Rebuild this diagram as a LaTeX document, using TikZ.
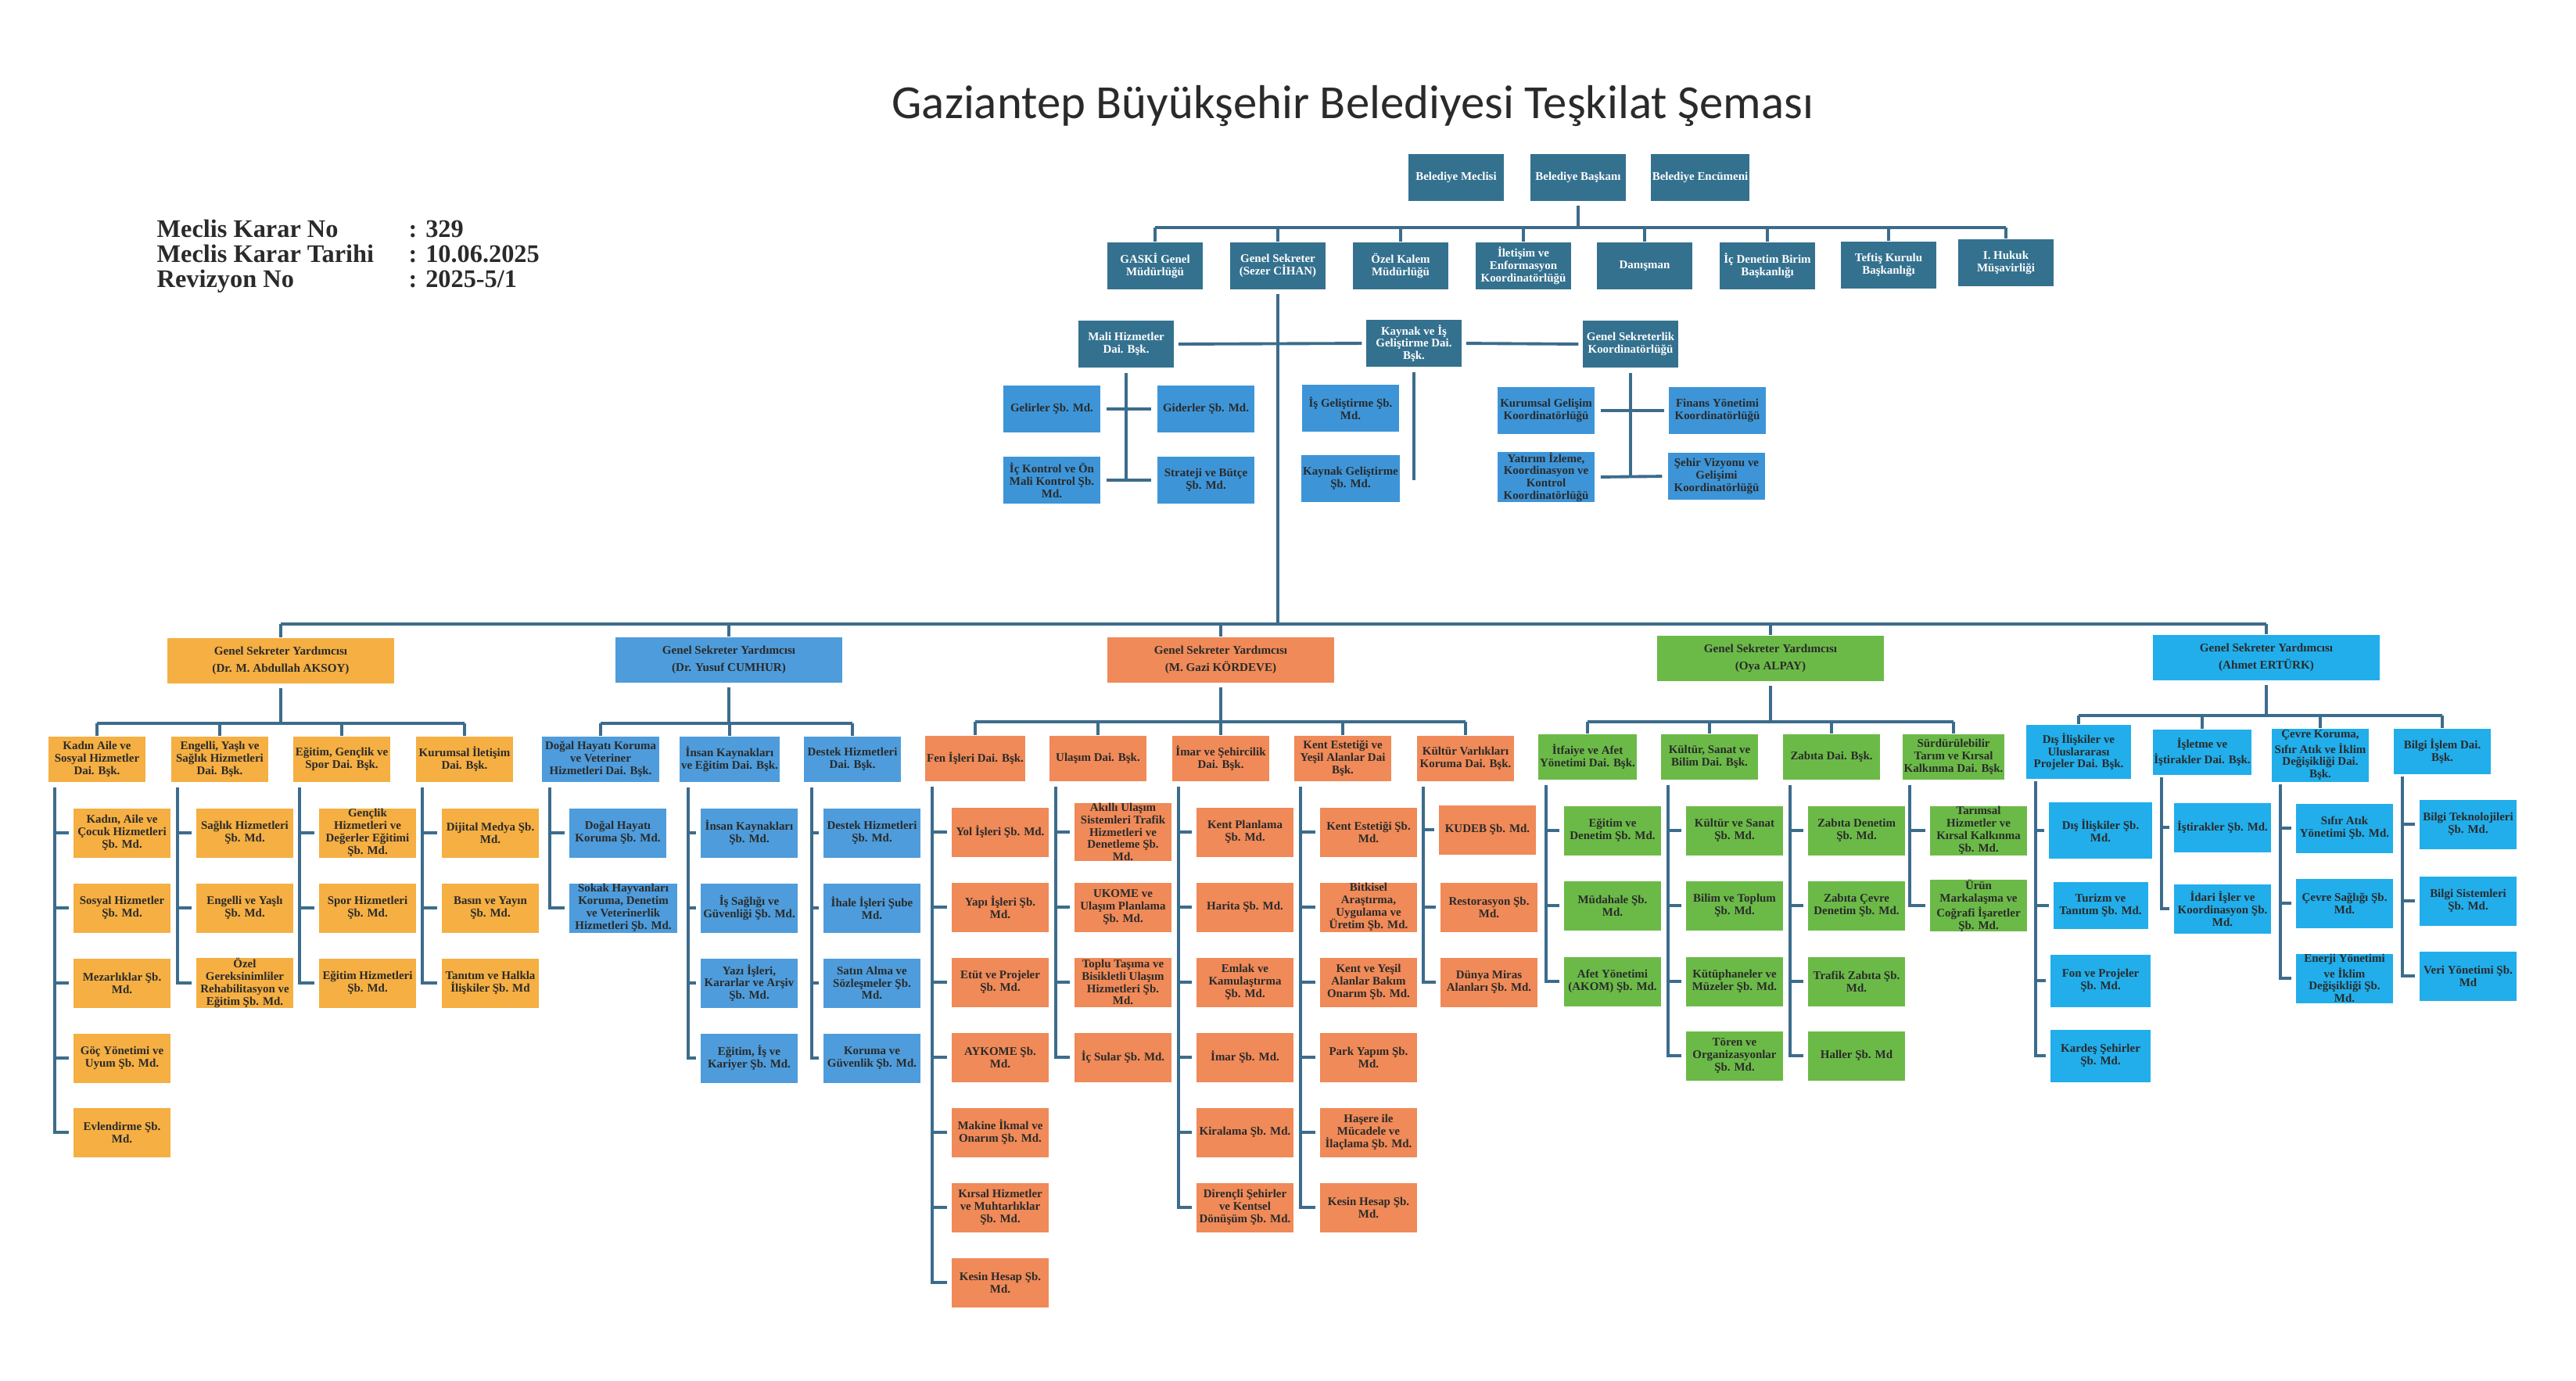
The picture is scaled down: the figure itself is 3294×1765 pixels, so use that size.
\documentclass[tikz,border=0pt]{standalone}
\usepackage{fontspec}
\setmainfont{Liberation Serif}
\newfontfamily\titlefont{Carlito}
\usetikzlibrary{calc}
\definecolor{topblue}{HTML}{34718F}
\definecolor{lblue}{HTML}{3D95D8}
\definecolor{bblue}{HTML}{4E9CDB}
\definecolor{orgA}{HTML}{F5AF42}
\definecolor{orgC}{HTML}{F08A58}
\definecolor{grn}{HTML}{6BBA48}
\definecolor{cyn}{HTML}{21AEEB}
\definecolor{connc}{HTML}{3C6C8C}
\definecolor{txt}{HTML}{2A2A2A}
\newcommand\boxfont{\fontsize{4.25}{4.5}\selectfont\bfseries}
\newcommand\gsyfont{\fontsize{4.3}{6.2}\selectfont\bfseries}
\tikzset{
 box/.style={draw=none, align=center, inner xsep=0.5pt, inner ysep=0pt, font=\boxfont, text=txt},
 sbox/.style={box, minimum width=1.24cm, minimum height=0.63cm},
 dbox/.style={box, minimum width=1.24cm, minimum height=0.58cm},
 gbox/.style={box, minimum width=2.9cm, minimum height=0.58cm, font=\gsyfont},
 tbox/.style={box, fill=topblue, text=white, minimum width=1.22cm, minimum height=0.6cm},
 lbox/.style={box, fill=lblue, minimum width=1.24cm, minimum height=0.6cm},
 cA/.style={fill=orgA}, cB/.style={fill=bblue}, cC/.style={fill=orgC},
 cD/.style={fill=grn}, cE/.style={fill=cyn},
 conn/.style={draw=connc, line width=1.1pt},
 barc/.style={draw=connc, line width=1.3pt},
 info/.style={font=\fontsize{9.2}{11}\selectfont\bfseries, text=txt, inner sep=0pt, anchor=base west},
}
\begin{document}
\begin{tikzpicture}[x=0.01cm, y=-0.01cm]
\fill[white] (0,0) rectangle (3294,1765);
\useasboundingbox (0,0) rectangle (3294,1765);

% title and info
\node[inner sep=0pt, text=txt] (title) at (1730,135) {\resizebox{11.78cm}{!}{\titlefont Gaziantep Büyükşehir Belediyesi Teşkilat Şeması}};
\node[info] (l1) at (200,303) {Meclis Karar No};
\node[info] (l2) at (200,335) {Meclis Karar Tarihi};
\node[info] (l3) at (200,367) {Revizyon No};
\node[info] (v1) at (522,303) {: 329};
\node[info] (v2) at (522,335) {: 10.06.2025};
\node[info] (v3) at (522,367) {: 2025-5/1};

% top rows
\node[tbox] (meclis) at (1862,227) {Belediye Meclisi};
\node[tbox] (baskan) at (2018,227) {Belediye Başkanı};
\node[tbox] (encumen) at (2174,227) {Belediye Encümeni};

\node[tbox] (gaski) at (1477,340) {GASKİ Genel\\Müdürlüğü};
\node[tbox] (gs) at (1634,340) {Genel Sekreter\\(Sezer CİHAN)};
\node[tbox] (ozel) at (1791,340) {Özel Kalem\\Müdürlüğü};
\node[tbox] (ilet) at (1948,340) {İletişim ve\\Enformasyon\\Koordinatörlüğü};
\node[tbox] (danis) at (2103,340) {Danışman};
\node[tbox] (icden) at (2260,340) {İç Denetim Birim\\Başkanlığı};
\node[tbox] (teftis) at (2415,339) {Teftiş Kurulu\\Başkanlığı};
\node[tbox] (hukuk) at (2565,336) {I. Hukuk\\Müşavirliği};

\coordinate (topbar) at (2018,291);
\draw[barc] ([yshift=-0.05cm]baskan.south) -- (baskan.south |- topbar);
\draw[barc] (gaski.north |- topbar) -- (hukuk.north |- topbar);
\foreach \x in {gaski,gs,ozel,ilet,danis,icden,teftis,hukuk}
  \draw[conn] (\x.north |- topbar) -- (\x.north);

% third row
\node[tbox] (mali) at (1440,440) {Mali Hizmetler\\Dai. Bşk.};
\node[tbox] (kaynak) at (1808,439) {Kaynak ve İş\\Geliştirme Dai.\\Bşk.};
\node[tbox] (gsk) at (2085,440) {Genel Sekreterlik\\Koordinatörlüğü};

\node[lbox] (gel) at (1345,523) {Gelirler Şb. Md.};
\node[lbox] (gid) at (1542,523) {Giderler Şb. Md.};
\node[lbox] (ick) at (1345,614) {İç Kontrol ve Ön\\Mali Kontrol Şb.\\Md.};
\node[lbox] (str) at (1542,614) {Strateji ve Bütçe\\Şb. Md.};
\node[lbox] (isg) at (1727,522) {İş Geliştirme Şb.\\Md.};
\node[lbox] (kg) at (1727,612) {Kaynak Geliştirme\\Şb. Md.};
\node[lbox] (kur) at (1977,525) {Kurumsal Gelişim\\Koordinatörlüğü};
\node[lbox] (fin) at (2196,525) {Finans Yönetimi\\Koordinatörlüğü};
\node[lbox] (yat) at (1977,610) {Yatırım İzleme,\\Koordinasyon ve\\Kontrol\\Koordinatörlüğü};
\node[lbox] (seh) at (2195,609) {Şehir Vizyonu ve\\Gelişimi\\Koordinatörlüğü};

\draw[conn, shorten <=0.05cm, shorten >=0.05cm] (mali.east) -- (kaynak.west);
\draw[conn, shorten <=0.05cm, shorten >=0.05cm] (kaynak.east) -- (gsk.west);
\draw[conn] ([yshift=-0.06cm]mali.south) -- (mali.south |- str.west);
\draw[conn, shorten <=0.07cm, shorten >=0.07cm] (gel.east) -- (gid.west);
\draw[conn, shorten <=0.07cm, shorten >=0.07cm] (ick.east) -- (str.west);
\draw[conn, shorten >=0.2cm] ([yshift=-0.06cm]kaynak.south) |- (isg.east);
\draw[conn, shorten >=0.2cm] ([yshift=-0.06cm]kaynak.south) |- (kg.east);
\draw[conn] ([yshift=-0.06cm]gsk.south) -- (gsk.south |- seh.west);
\draw[conn, shorten <=0.07cm, shorten >=0.05cm] (kur.east) -- (fin.west);
\draw[conn, shorten <=0.07cm, shorten >=0.07cm] (yat.east) -- (seh.west);

% deputies
\node[gbox, cA] (gsy1) at (359,845) {Genel Sekreter Yardımcısı\\(Dr. M. Abdullah AKSOY)};
\node[gbox, cB] (gsy2) at (932,844) {Genel Sekreter Yardımcısı\\(Dr. Yusuf CUMHUR)};
\node[gbox, cC] (gsy3) at (1561,844) {Genel Sekreter Yardımcısı\\(M. Gazi KÖRDEVE)};
\node[gbox, cD] (gsy4) at (2264,842) {Genel Sekreter Yardımcısı\\(Oya ALPAY)};
\node[gbox, cE] (gsy5) at (2898,841) {Genel Sekreter Yardımcısı\\(Ahmet ERTÜRK)};

\coordinate (mainbar) at (1634,798);
\draw[conn] ([yshift=-0.05cm]gs.south) -- (gs.south |- mainbar);
\draw[barc] (gsy1.north |- mainbar) -- (gsy5.north |- mainbar);
\foreach \x in {gsy1,gsy2,gsy3,gsy4,gsy5}
  \draw[conn] (\x.north |- mainbar) -- (\x.north);

% ---------- cluster A
\foreach \n/\x/\t in {a1/124/{Kadın Aile ve\\Sosyal Hizmetler\\Dai. Bşk.}, a2/281/{Engelli, Yaşlı ve\\Sağlık Hizmetleri\\Dai. Bşk.}, a3/437/{Eğitim, Gençlik ve\\Spor Dai. Bşk.}, a4/594/{Kurumsal İletişim\\Dai. Bşk.}}
  \node[dbox, cA] (\n) at (\x,971) {\t};
\node[sbox, cA] (a1-1) at (156,1065) {Kadın, Aile ve\\Çocuk Hizmetleri\\Şb. Md.};
\node[sbox, cA] (a1-2) at (156,1161) {Sosyal Hizmetler\\Şb. Md.};
\node[sbox, cA] (a1-3) at (156,1257) {Mezarlıklar Şb.\\Md.};
\node[sbox, cA] (a1-4) at (156,1353) {Göç Yönetimi ve\\Uyum Şb. Md.};
\node[sbox, cA] (a1-5) at (156,1448) {Evlendirme Şb.\\Md.};
\node[sbox, cA] (a2-1) at (313,1065) {Sağlık Hizmetleri\\Şb. Md.};
\node[sbox, cA] (a2-2) at (313,1161) {Engelli ve Yaşlı\\Şb. Md.};
\node[sbox, cA] (a2-3) at (313,1257) {Özel\\Gereksinimliler\\Rehabilitasyon ve\\Eğitim Şb. Md.};
\node[sbox, cA] (a3-1) at (470,1065) {Gençlik\\Hizmetleri ve\\Değerler Eğitimi\\Şb. Md.};
\node[sbox, cA] (a3-2) at (470,1161) {Spor Hizmetleri\\Şb. Md.};
\node[sbox, cA] (a3-3) at (470,1257) {Eğitim Hizmetleri\\Şb. Md.};
\node[sbox, cA] (a4-1) at (627,1065) {Dijital Medya Şb.\\Md.};
\node[sbox, cA] (a4-2) at (627,1161) {Basın ve Yayın\\Şb. Md.};
\node[sbox, cA] (a4-3) at (627,1257) {Tanıtım ve Halkla\\İlişkiler Şb. Md};
\coordinate (barA) at (359,925);
\draw[conn] ([yshift=-0.05cm]gsy1.south) -- (gsy1.south |- barA);
\draw[barc] (a1.north |- barA) -- (a4.north |- barA);
\foreach \x in {a1,a2,a3,a4} \draw[conn] (\x.north |- barA) -- (\x.north);
\foreach \d/\k in {a1/5,a2/3,a3/3,a4/3}
  \foreach \i in {1,...,\k}
    \draw[conn, shorten >=0.05cm] ($(\d.south west)+(9,6)$) |- (\d-\i.west);

% ---------- cluster B
\node[dbox, cB, minimum width=1.5cm] (b1) at (768,971) {Doğal Hayatı Koruma\\ve Veteriner\\Hizmetleri Dai. Bşk.};
\node[dbox, cB] (b2) at (933,971) {İnsan Kaynakları\\ve Eğitim Dai. Bşk.};
\node[dbox, cB] (b3) at (1090,971) {Destek Hizmetleri\\Dai. Bşk.};
\node[sbox, cB] (b1-1) at (790,1065) {Doğal Hayatı\\Koruma Şb. Md.};
\node[sbox, cB, minimum width=1.38cm] (b1-2) at (797,1161) {Sokak Hayvanları\\Koruma, Denetim\\ve Veterinerlik\\Hizmetleri Şb. Md.};
\node[sbox, cB] (b2-1) at (958,1065) {İnsan Kaynakları\\Şb. Md.};
\node[sbox, cB] (b2-2) at (958,1161) {İş Sağlığı ve\\Güvenliği Şb. Md.};
\node[sbox, cB] (b2-3) at (958,1257) {Yazı İşleri,\\Kararlar ve Arşiv\\Şb. Md.};
\node[sbox, cB] (b2-4) at (958,1353) {Eğitim, İş ve\\Kariyer Şb. Md.};
\node[sbox, cB] (b3-1) at (1115,1065) {Destek Hizmetleri\\Şb. Md.};
\node[sbox, cB] (b3-2) at (1115,1161) {İhale İşleri Şube\\Md.};
\node[sbox, cB] (b3-3) at (1115,1257) {Satın Alma ve\\Sözleşmeler Şb.\\Md.};
\node[sbox, cB] (b3-4) at (1115,1353) {Koruma ve\\Güvenlik Şb. Md.};
\coordinate (barB) at (932,925);
\draw[conn] ([yshift=-0.05cm]gsy2.south) -- (gsy2.south |- barB);
\draw[barc] (b1.north |- barB) -- (b3.north |- barB);
\foreach \x in {b1,b2,b3} \draw[conn] (\x.north |- barB) -- (\x.north);
\foreach \d/\k in {b1/2,b2/4,b3/4}
  \foreach \i in {1,...,\k}
    \draw[conn, shorten >=0.05cm] ($(\d.south west)+(11,6)$) |- (\d-\i.west);

% ---------- cluster C
\node[dbox, cC] (c1) at (1247,970) {Fen İşleri Dai. Bşk.};
\node[dbox, cC] (c2) at (1404,970) {Ulaşım Dai. Bşk.};
\node[dbox, cC] (c3) at (1561,970) {İmar ve Şehircilik\\Dai. Bşk.};
\node[dbox, cC] (c4) at (1717,970) {Kent Estetiği ve\\Yeşil Alanlar Dai\\Bşk.};
\node[dbox, cC] (c5) at (1874,970) {Kültür Varlıkları\\Koruma Dai. Bşk.};
\node[sbox, cC] (c1-1) at (1279,1064) {Yol İşleri Şb. Md.};
\node[sbox, cC] (c1-2) at (1279,1160) {Yapı İşleri Şb.\\Md.};
\node[sbox, cC] (c1-3) at (1279,1256) {Etüt ve Projeler\\Şb. Md.};
\node[sbox, cC] (c1-4) at (1279,1352) {AYKOME Şb.\\Md.};
\node[sbox, cC] (c1-5) at (1279,1448) {Makine İkmal ve\\Onarım Şb. Md.};
\node[sbox, cC] (c1-6) at (1279,1544) {Kırsal Hizmetler\\ve Muhtarlıklar\\Şb. Md.};
\node[sbox, cC] (c1-7) at (1279,1640) {Kesin Hesap Şb.\\Md.};
\node[sbox, cC] (c2-1) at (1436,1064) {Akıllı Ulaşım\\Sistemleri Trafik\\Hizmetleri ve\\Denetleme Şb.\\Md.};
\node[sbox, cC] (c2-2) at (1436,1160) {UKOME ve\\Ulaşım Planlama\\Şb. Md.};
\node[sbox, cC] (c2-3) at (1436,1256) {Toplu Taşıma ve\\Bisikletli Ulaşım\\Hizmetleri Şb.\\Md.};
\node[sbox, cC] (c2-4) at (1436,1352) {İç Sular Şb. Md.};
\node[sbox, cC] (c3-1) at (1592,1064) {Kent Planlama\\Şb. Md.};
\node[sbox, cC] (c3-2) at (1592,1160) {Harita Şb. Md.};
\node[sbox, cC] (c3-3) at (1592,1256) {Emlak ve\\Kamulaştırma\\Şb. Md.};
\node[sbox, cC] (c3-4) at (1592,1352) {İmar Şb. Md.};
\node[sbox, cC] (c3-5) at (1592,1448) {Kiralama Şb. Md.};
\node[sbox, cC] (c3-6) at (1592,1544) {Dirençli Şehirler\\ve Kentsel\\Dönüşüm Şb. Md.};
\node[sbox, cC] (c4-1) at (1750,1064) {Kent Estetiği Şb.\\Md.};
\node[sbox, cC] (c4-2) at (1750,1160) {Bitkisel\\Araştırma,\\Uygulama ve\\Üretim Şb. Md.};
\node[sbox, cC] (c4-3) at (1750,1256) {Kent ve Yeşil\\Alanlar Bakım\\Onarım Şb. Md.};
\node[sbox, cC] (c4-4) at (1750,1352) {Park Yapım Şb.\\Md.};
\node[sbox, cC] (c4-5) at (1750,1448) {Haşere ile\\Mücadele ve\\İlaçlama Şb. Md.};
\node[sbox, cC] (c4-6) at (1750,1544) {Kesin Hesap Şb.\\Md.};
\node[sbox, cC] (c5-1) at (1902,1061) {KUDEB Şb. Md.};
\node[sbox, cC] (c5-2) at (1904,1160) {Restorasyon Şb.\\Md.};
\node[sbox, cC] (c5-3) at (1904,1256) {Dünya Miras\\Alanları Şb. Md.};
\coordinate (barC) at (1561,923);
\draw[conn] ([yshift=-0.05cm]gsy3.south) -- (gsy3.south |- barC);
\draw[barc] (c1.north |- barC) -- (c5.north |- barC);
\foreach \x in {c1,c2,c3,c4,c5} \draw[conn] (\x.north |- barC) -- (\x.north);
\foreach \d/\k in {c1/7,c2/4,c3/6,c4/6,c5/3}
  \foreach \i in {1,...,\k}
    \draw[conn, shorten >=0.05cm] ($(\d.south west)+(9,6)$) |- (\d-\i.west);

% ---------- cluster D
\node[dbox, cD] (d1) at (2030,968) {İtfaiye ve Afet\\Yönetimi Dai. Bşk.};
\node[dbox, cD] (d2) at (2186,968) {Kültür, Sanat ve\\Bilim Dai. Bşk.};
\node[dbox, cD] (d3) at (2342,968) {Zabıta Dai. Bşk.};
\node[dbox, cD] (d4) at (2498,968) {Sürdürülebilir\\Tarım ve Kırsal\\Kalkınma Dai. Bşk.};
\node[sbox, cD] (d1-1) at (2062,1062) {Eğitim ve\\Denetim Şb. Md.};
\node[sbox, cD] (d1-2) at (2062,1158) {Müdahale Şb.\\Md.};
\node[sbox, cD] (d1-3) at (2062,1255) {Afet Yönetimi\\(AKOM) Şb. Md.};
\node[sbox, cD] (d2-1) at (2218,1062) {Kültür ve Sanat\\Şb. Md.};
\node[sbox, cD] (d2-2) at (2218,1158) {Bilim ve Toplum\\Şb. Md.};
\node[sbox, cD] (d2-3) at (2218,1255) {Kütüphaneler ve\\Müzeler Şb. Md.};
\node[sbox, cD] (d2-4) at (2218,1350) {Tören ve\\Organizasyonlar\\Şb. Md.};
\node[sbox, cD] (d3-1) at (2374,1062) {Zabıta Denetim\\Şb. Md.};
\node[sbox, cD] (d3-2) at (2374,1158) {Zabıta Çevre\\Denetim Şb. Md.};
\node[sbox, cD] (d3-3) at (2374,1255) {Trafik Zabıta Şb.\\Md.};
\node[sbox, cD] (d3-4) at (2374,1350) {Haller Şb. Md};
\node[sbox, cD] (d4-1) at (2530,1062) {Tarımsal\\Hizmetler ve\\Kırsal Kalkınma\\Şb. Md.};
\node[sbox, cD] (d4-2) at (2530,1158) {Ürün\\Markalaşma ve\\Coğrafi İşaretler\\Şb. Md.};
\coordinate (barD) at (2264,923);
\draw[conn] ([yshift=-0.05cm]gsy4.south) -- (gsy4.south |- barD);
\draw[barc] (d1.north |- barD) -- (d4.north |- barD);
\foreach \x in {d1,d2,d3,d4} \draw[conn] (\x.north |- barD) -- (\x.north);
\foreach \d/\k in {d1/3,d2/4,d3/4,d4/2}
  \foreach \i in {1,...,\k}
    \draw[conn, shorten >=0.05cm] ($(\d.south west)+(10,6)$) |- (\d-\i.west);

% ---------- cluster E
\node[dbox, cE, anchor=north, minimum width=1.33cm, minimum height=0.69cm] (e1) at (2658,926) {Dış İlişkiler ve\\Uluslararası\\Projeler Dai. Bşk.};
\node[dbox, cE, anchor=north] (e2) at (2816,932) {İşletme ve\\İştirakler Dai. Bşk.};
\node[dbox, cE, anchor=north, minimum height=0.68cm] (e3) at (2967,931) {Çevre Koruma,\\Sıfır Atık ve İklim\\Değişikliği Dai.\\Bşk.};
\node[dbox, cE, anchor=north] (e4) at (3123,931) {Bilgi İşlem Dai.\\Bşk.};
\node[sbox, cE, minimum width=1.32cm, minimum height=0.72cm] (e1-1) at (2686,1062) {Dış İlişkiler Şb.\\Md.};
\node[sbox, cE, minimum width=1.21cm, minimum height=0.6cm] (e1-2) at (2686,1158) {Turizm ve\\Tanıtım Şb. Md.};
\node[sbox, cE, minimum width=1.28cm, minimum height=0.67cm] (e1-3) at (2686,1254) {Fon ve Projeler\\Şb. Md.};
\node[sbox, cE, minimum width=1.28cm, minimum height=0.67cm] (e1-4) at (2686,1350) {Kardeş Şehirler\\Şb. Md.};
\node[sbox, cE] (e2-1) at (2842,1058) {İştirakler Şb. Md.};
\node[sbox, cE] (e2-2) at (2842,1162) {İdari İşler ve\\Koordinasyon Şb.\\Md.};
\node[sbox, cE] (e3-1) at (2998,1059) {Sıfır Atık\\Yönetimi Şb. Md.};
\node[sbox, cE] (e3-2) at (2998,1155) {Çevre Sağlığı Şb.\\Md.};
\node[sbox, cE] (e3-3) at (2998,1251) {Enerji Yönetimi\\ve İklim\\Değişikliği Şb.\\Md.};
\node[sbox, cE] (e4-1) at (3156,1054) {Bilgi Teknolojileri\\Şb. Md.};
\node[sbox, cE] (e4-2) at (3156,1152) {Bilgi Sistemleri\\Şb. Md.};
\node[sbox, cE] (e4-3) at (3156,1248) {Veri Yönetimi Şb.\\Md};
\coordinate (barE) at (2898,915);
\draw[conn] ([yshift=-0.05cm]gsy5.south) -- (gsy5.south |- barE);
\draw[barc] (e1.north |- barE) -- (e4.north |- barE);
\foreach \x in {e1,e2,e3,e4} \draw[conn] (\x.north |- barE) -- (\x.north);
\foreach \d/\k in {e1/4,e2/2,e3/3,e4/3}
  \foreach \i in {1,...,\k}
    \draw[conn, shorten >=0.05cm] ($(\d.south west)+(12,3)$) |- (\d-\i.west);

\end{tikzpicture}
\end{document}
